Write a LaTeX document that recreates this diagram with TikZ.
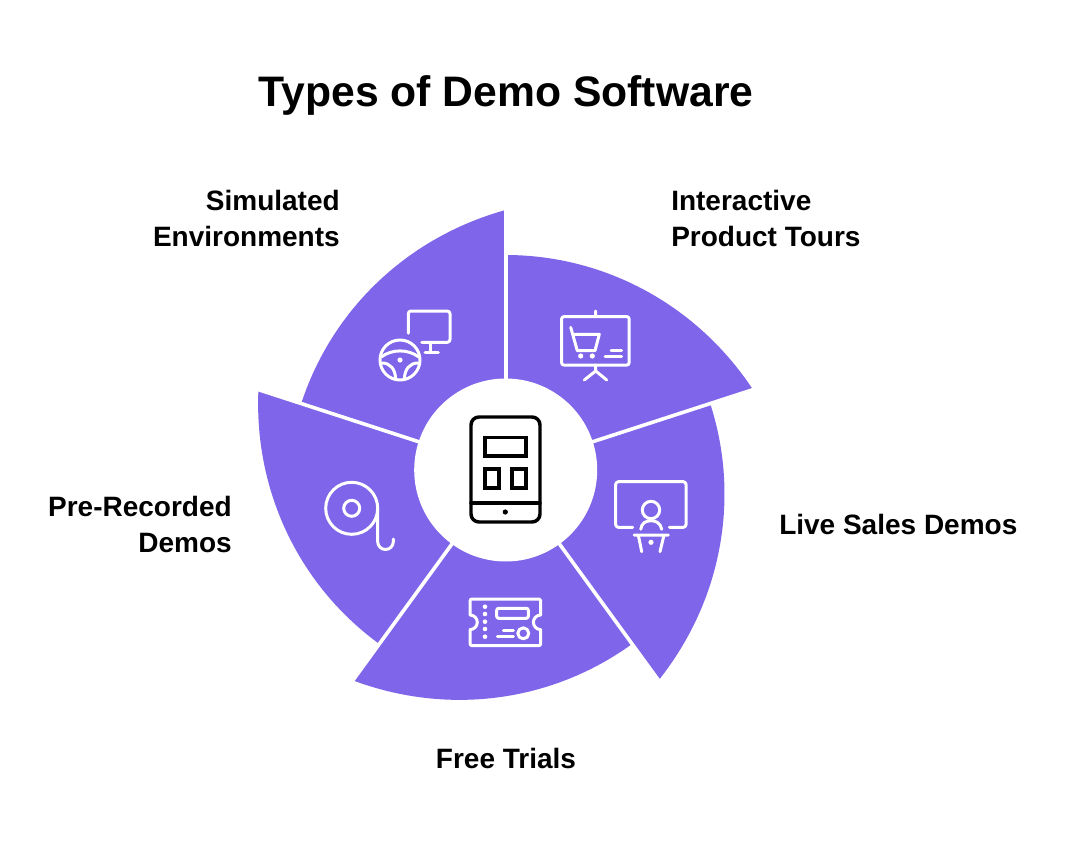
\documentclass[tikz,border=0pt]{standalone}
\usepackage{fontspec}
\setmainfont{Liberation Sans}
\definecolor{violet}{HTML}{7E65E9}
\tikzset{
  ico/.style={draw=white,line width=2.25pt,line cap=round,line join=round},
  blk/.style={draw=black,line width=2.6pt,line cap=round,line join=round},
  lab/.style={font=\bfseries\fontsize{21pt}{27pt}\selectfont,inner sep=0pt},
  ttl/.style={font=\bfseries\fontsize{32pt}{36pt}\selectfont,inner sep=0pt}
}
\begin{document}
\begin{tikzpicture}[x=0.75pt,y=-0.75pt]
\useasboundingbox (0,0) rectangle (1065,849);
\fill[white] (0,0) rectangle (1065,849);
% sectors
\begin{scope}[shift={(505.7,470)},yscale=-1]
\foreach \s in {90,18,-54,-126,-198}{
  \fill[violet] (0,0) -- plot[domain=0:1,samples=70,smooth] ({\s-72*\x}:{215+45*\x*\x}) -- cycle;
}
\foreach \s in {90,18,-54,-126,-198}{
  \draw[white,line width=2.7pt] (0,0) -- (\s:262);
}
\fill[white] (0,0) circle (91.5);
\end{scope}
% centre icon
\draw[blk] (471,425) arc (180:270:8) -- (532,417) arc (-90:0:8) -- (540,514) arc (0:90:8) -- (479,522) arc (90:180:8) -- cycle;
\draw[blk,line cap=butt,line join=miter] (485,437.5) rectangle (526,456);
\draw[blk,line cap=butt,line join=miter] (485,469) rectangle (499,488);
\draw[blk,line cap=butt,line join=miter] (512,469) rectangle (526,488);
\draw[blk] (471,503) -- (540,503);
\fill[black] (505.3,512) circle (2.6);
% product tour icon
\draw[ico,rounded corners=1.5pt] (561.7,316.7) rectangle (629,365);
\draw[ico] (595.7,311) -- (595.7,316.7) (595.7,365) -- (595.7,371) (584.3,380) -- (595.7,371) -- (606.7,380);
\draw[ico] (570.7,327.3) -- (577.3,350.7) -- (595,350.7) -- (599.3,334.3) -- (573.3,334.3);
\fill[white] (580.7,356) circle (2.6) (592.3,356) circle (2.6);
\draw[ico] (611,350) -- (621.7,350) (605,356) -- (621.7,356);
% simulated icon
\draw[ico,rounded corners=2pt] (408.3,333.3) -- (408.3,311) -- (450,311) -- (450,342.3) -- (421.7,342.3);
\draw[ico] (430,342.3) -- (430,352.7) (425,352.7) -- (438.3,352.7);
\draw[ico] (400,360) circle (20);
\draw[ico] (381.7,356.7) .. controls (392,349) and (408,349) .. (418.3,356.7);
\fill[white] (400,360) circle (2.6);
\draw[ico] (382,363) .. controls (390,363) and (395.5,369) .. (395.5,379);
\draw[ico] (418,363) .. controls (410,363) and (404.5,369) .. (404.5,379);
% presenter icon
\draw[ico,rounded corners=2pt] (632.7,527.3) -- (615.7,527.3) -- (615.7,481.7) -- (686,481.7) -- (686,527.3) -- (669.3,527.3);
\draw[ico] (651,510) circle (8.7);
\draw[ico] (640.7,529.3) .. controls (641.5,523) and (646,520.7) .. (651,520.7) .. controls (656,520.7) and (660.5,523) .. (661.7,529.3);
\draw[ico] (634,535) -- (668.3,535) (638.3,535) -- (641.7,551.7) (664,535) -- (660,551.7);
\fill[white] (651,542.3) circle (2.6);
% ticket icon
\draw[ico] (472,599) -- (538.7,599) arc (-90:0:2) -- (540.7,615) arc (270:90:7.3) -- (540.7,643.7) arc (0:90:2) -- (472,645.7) arc (90:180:2) -- (470,629.6) arc (90:-90:7.3) -- (470,601) arc (180:270:2) -- cycle;
\fill[white] (485,606.7) circle (2.3) (485,614) circle (2.3) (485,621.7) circle (2.3) (485,629) circle (2.3) (485,636.7) circle (2.3);
\draw[ico,rounded corners=1.5pt] (496.7,608.3) rectangle (528.3,618.3);
\draw[ico] (523.3,633.3) circle (5.5);
\draw[ico] (503.3,630) -- (513.3,630) (497.3,636.3) -- (513.3,636.3);
% tape icon
\draw[ico] (351.7,508.3) circle (26);
\draw[ico] (351.7,508.3) circle (8);
\draw[ico] (377.7,508.3) -- (377.7,541.7) arc (180:0:7.8) -- (393.3,539);
% labels
\node[ttl,anchor=base] (title) at (506,107) {Types of Demo Software};
\node[lab,anchor=base west] (t1a) at (671,210) {Interactive};
\node[lab,anchor=base west] (t1b) at (671,246) {Product Tours};
\node[lab,anchor=base west] (t2) at (779,534) {Live Sales Demos};
\node[lab,anchor=base] (t3) at (506,768) {Free Trials};
\node[lab,anchor=base east] (t4a) at (232,516) {Pre-Recorded};
\node[lab,anchor=base east] (t4b) at (232,552) {Demos};
\node[lab,anchor=base east] (t5a) at (340,210) {Simulated};
\node[lab,anchor=base east] (t5b) at (340,246) {Environments};
\end{tikzpicture}
\end{document}
